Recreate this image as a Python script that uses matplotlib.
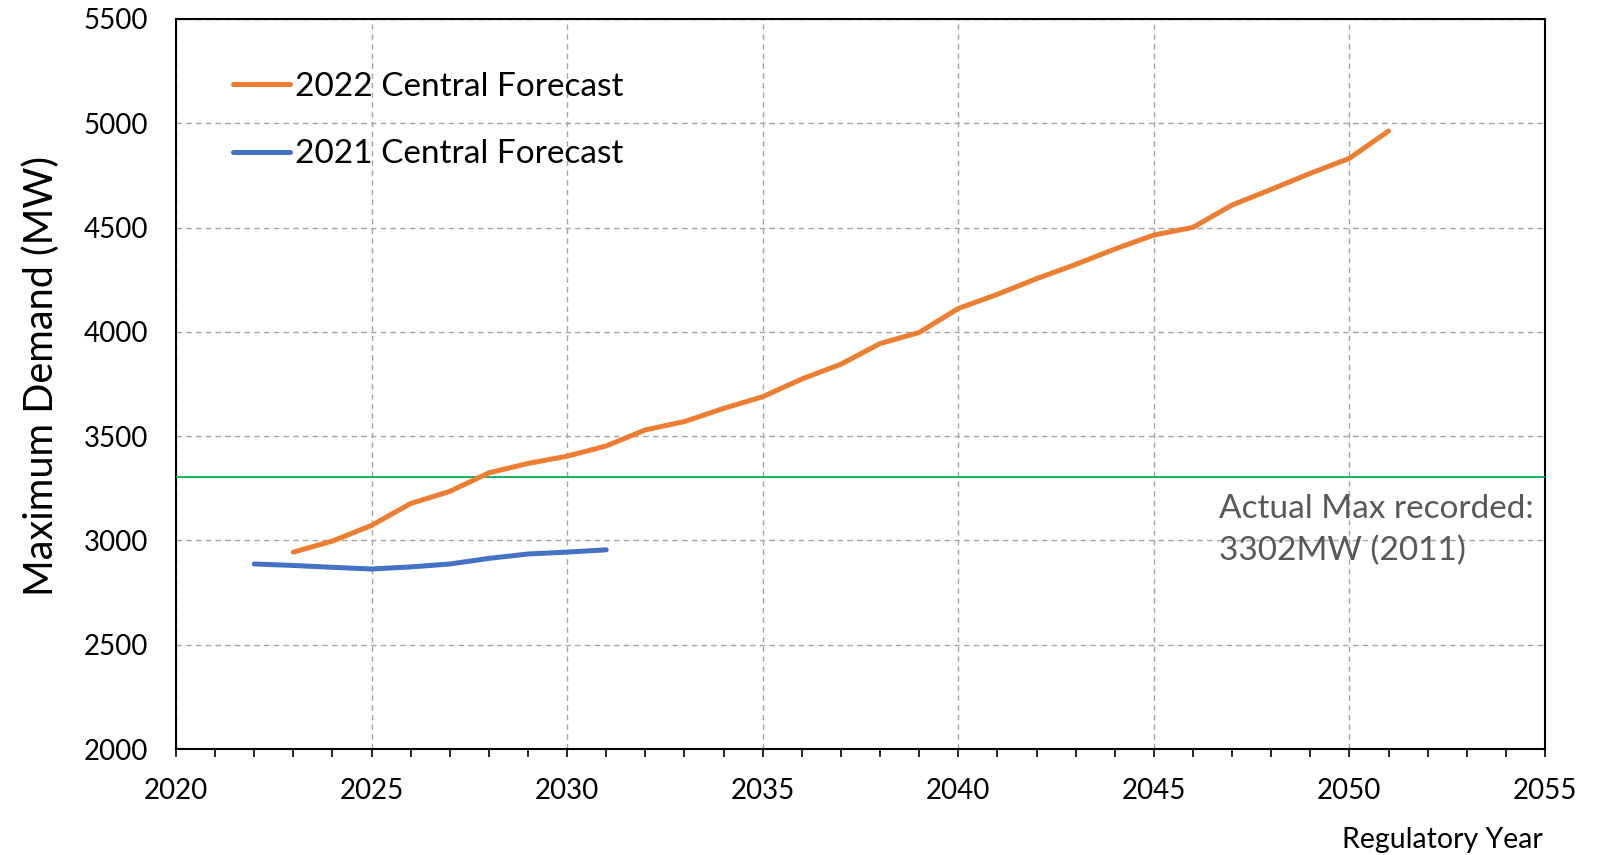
import matplotlib
matplotlib.use("Agg")
import matplotlib.pyplot as plt
from matplotlib.ticker import MultipleLocator

plt.rcParams['font.family'] = ['Lato', 'DejaVu Sans']

years_2022 = list(range(2023, 2052))
demand_2022 = [2944, 2997, 3072, 3177, 3235, 3324, 3369, 3404, 3453, 3530,
               3570, 3633, 3689, 3774, 3845, 3944, 3997, 4112, 4180, 4255,
               4323, 4397, 4464, 4501, 4608, 4683, 4760, 4832, 4963]
years_2021 = list(range(2022, 2032))
demand_2021 = [2887, 2880, 2871, 2863, 2873, 2887, 2914, 2935, 2944, 2955]
actual_max = 3302
labels = ["2022 Central Forecast", "2021 Central Forecast"]
annotation = "Actual Max recorded:\n3302MW (2011)"

W, H = 1603, 855
fig = plt.figure(figsize=(W / 100, H / 100), dpi=100)
ax = fig.add_axes([176 / W, 1 - 749 / H, (1545 - 176) / W, (749 - 19) / H])

ax.plot(years_2022, demand_2022, color="#ED7D31", lw=3.6, solid_capstyle="round",
        label=labels[0], zorder=4)
ax.plot(years_2021, demand_2021, color="#4472C4", lw=3.6, solid_capstyle="round",
        label=labels[1], zorder=4)
ax.axhline(actual_max, color="#00B050", lw=1.3, zorder=3)

ax.set_xlim(2020, 2055)
ax.set_ylim(2000, 5500)
ax.xaxis.set_major_locator(MultipleLocator(5))
ax.xaxis.set_minor_locator(MultipleLocator(1))
ax.yaxis.set_major_locator(MultipleLocator(500))

ax.grid(True, which="major", color="#A6A6A6", ls=(0, (4, 3)), lw=1.0)
ax.tick_params(axis="x", which="major", length=6, width=1.2, direction="out",
               labelsize=20, pad=15)
ax.tick_params(axis="x", which="minor", length=6, width=1.2, direction="out")
ax.tick_params(axis="y", length=0, labelsize=20, pad=20)
for s in ax.spines.values():
    s.set_linewidth(1.5)
    s.set_color("black")

ax.set_ylabel("Maximum Demand (MW)", fontsize=28.5)
ax.yaxis.set_label_coords(-0.085, 0.511)
fig.text(1543 / W, 1 - 848 / H, "Regulatory Year", fontsize=20.5, ha="right",
         va="baseline")

ax.text(0.762, 0.35, annotation, transform=ax.transAxes, fontsize=24,
        color="#595959", va="top", ha="left", linespacing=1.5)

leg = ax.legend(loc="upper left", bbox_to_anchor=(233 / W, 1 - 72 / H),
                bbox_transform=fig.transFigure, frameon=False, fontsize=24,
                handlelength=1.7, handletextpad=0.15, labelspacing=1.12,
                borderpad=0, borderaxespad=0)

fig.savefig("out.png", dpi=100)
